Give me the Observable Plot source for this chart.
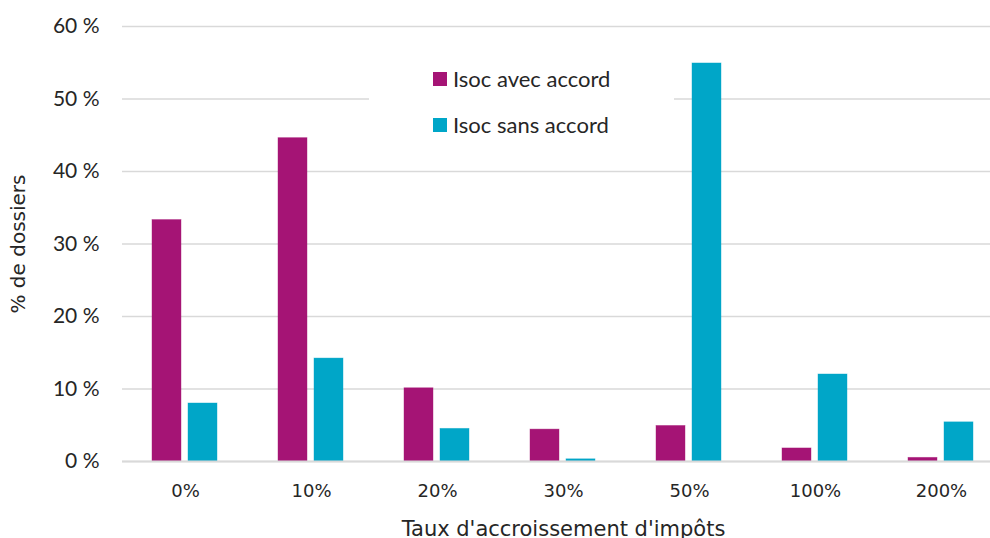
<!DOCTYPE html>
<html>
<head>
<meta charset="utf-8">
<script src="https://cdn.jsdelivr.net/npm/d3@7"></script>
<script src="https://cdn.jsdelivr.net/npm/@observablehq/plot@0.6"></script>
<style>
  html, body { margin: 0; padding: 0; background: #fff; }
  #wrap { position: relative; width: 990px; height: 538px; overflow: hidden; }
  #legend { position: absolute; left: 369px; top: 56px; width: 305px; height: 92px; background: #fff;
    font-family: Lato, "Open Sans", sans-serif; font-size: 22px; color: #262626; }
  .item { position: absolute; left: 64px; display: flex; align-items: center; white-space: nowrap; }
  .sw { width: 14px; height: 14px; margin-right: 6px; }
</style>
</head>
<body>
<div id="wrap"><div id="legend"></div></div>
<script>
const categories = ["0%", "10%", "20%", "30%", "50%", "100%", "200%"];
const seriesNames = ["Isoc avec accord", "Isoc sans accord"];
const avecAccord = [33.3, 44.6, 10.1, 4.4, 4.9, 1.8, 0.5];
const sansAccord = [8.0, 14.2, 4.5, 0.3, 54.9, 12.0, 5.4];
const colors = ["#A51475", "#00A6C8"];
const yTicks = [0, 10, 20, 30, 40, 50, 60];
const xTitle = "Taux d'accroissement d'impôts";
const yTitle = "% de dossiers";

const rows = [];
categories.forEach((c, i) => {
  rows.push({cat: c, series: seriesNames[0], value: avecAccord[i]});
  rows.push({cat: c, series: seriesNames[1], value: sansAccord[i]});
});

const chart = Plot.plot({
  width: 990,
  height: 538,
  marginTop: 26,
  marginBottom: 77,
  marginLeft: 122,
  marginRight: 0,
  style: {background: "transparent", overflow: "visible"},
  fx: {domain: categories, range: [121.5, 1003.5], padding: 0, axis: null},
  x: {domain: seriesNames, paddingInner: 0.194, paddingOuter: 0.847, axis: null},
  y: {domain: [0, 60], axis: null},
  color: {domain: seriesNames, range: colors},
  marks: [
    Plot.gridY(yTicks, {stroke: "#d9d9d9", strokeOpacity: 1, strokeWidth: 1.5}),
    Plot.barY(rows, {fx: "cat", x: "series", y: "value", fill: "series", stroke: "series", strokeOpacity: 0.5, strokeWidth: 0.8}),
    Plot.ruleY([0], {stroke: "#d9d9d9", strokeWidth: 2}),
    Plot.axisY(yTicks, {tickSize: 0, tickPadding: 23, tickFormat: d => d + " %",
      fontSize: 21, fontFamily: "Lato, 'Open Sans', sans-serif", fill: "#262626",
      label: yTitle, labelAnchor: "center", labelOffset: 112, labelArrow: "none"}),
    Plot.axisFx({anchor: "bottom", tickSize: 0, tickPadding: 23, fontSize: 18, fontFamily: "'DejaVu Sans', sans-serif", fill: "#262626",
      label: xTitle, labelAnchor: "center", labelOffset: 74, labelArrow: "none"})
  ]
});

chart.querySelectorAll("text").forEach(t => {
  const s = t.textContent;
  if (s.includes("dossiers") || s.includes("accroissement")) {
    const fs = s.includes("dossiers") ? 20 : 21;
    t.textContent = s.replace(/\s*[↑→←↓]\s*/g, "");
    t.setAttribute("font-family", "'DejaVu Sans', sans-serif");
    t.setAttribute("font-size", fs);
    t.setAttribute("fill", "#262626");
    t.style.fontFamily = "'DejaVu Sans', sans-serif";
    t.style.fontSize = fs + "px";
  }
});

document.getElementById("wrap").prepend(chart);

const legend = document.getElementById("legend");
seriesNames.forEach((s, i) => {
  const it = document.createElement("div");
  it.className = "item";
  it.style.top = (i === 0 ? 9 : 55) + "px";
  const sw = document.createElement("div");
  sw.className = "sw";
  sw.style.background = colors[i];
  const tx = document.createElement("span");
  tx.textContent = s;
  it.append(sw, tx);
  legend.append(it);
});
</script>
</body>
</html>
